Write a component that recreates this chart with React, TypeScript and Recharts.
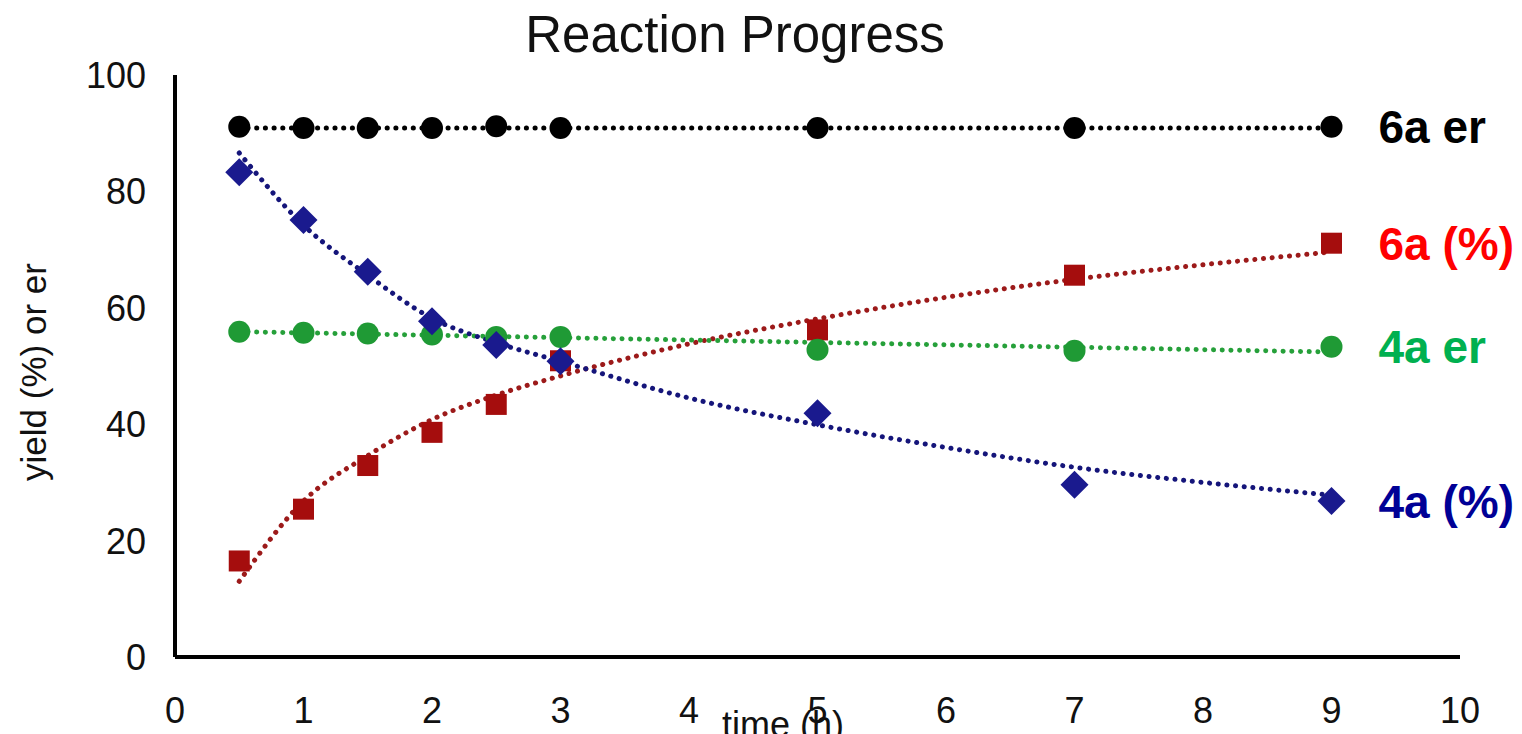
import React from 'react'
import { ComposedChart, Line, Scatter, XAxis, YAxis } from 'recharts'

// time points (h)
const times = [0.5, 1, 1.5, 2, 2.5, 3, 5, 7, 9]

// measured values
const er6a = [91.1, 90.9, 90.9, 90.9, 91.2, 90.9, 90.9, 90.9, 91.1]
const yield6a = [16.5, 25.4, 32.9, 38.6, 43.4, 50.9, 56.2, 65.6, 71.1]
const er4a = [55.9, 55.7, 55.6, 55.4, 55.0, 55.0, 52.8, 52.6, 53.3]
const yield4a = [83.3, 75.1, 66.2, 57.7, 53.6, 50.8, 41.9, 29.6, 26.8]

// trend lines
const trendTimes = [0.5, 1, 1.5, 2, 2.5, 3, 4, 5, 6, 7, 8, 9]
const trend6a = [13.0, 26.8, 34.6, 40.8, 45.0, 48.3, 53.8, 58.1, 61.8, 64.9, 67.4, 69.6]
const trend4a = [86.6, 74.2, 65.6, 58.2, 54.0, 50.8, 44.5, 39.9, 36.0, 32.6, 30.0, 27.8]
const trendEr6aTimes = [0.5, 9]
const trendEr6a = [90.9, 90.9]
const trendEr4aTimes = [0.5, 9]
const trendEr4a = [55.9, 52.4]

const xTicks = [0, 1, 2, 3, 4, 5, 6, 7, 8, 9, 10]
const yTicks = [0, 20, 40, 60, 80, 100]

const FONT = '"Liberation Sans", Arial, sans-serif'

const toPoints = (xs: number[], ys: number[]) => xs.map((x, i) => ({ x, y: ys[i] }))

const lastTime = times[times.length - 1]

type Kind = 'circle' | 'square' | 'diamond'

const makeShape = (kind: Kind, color: string, label: string, labelColor: string) =>
  (props: any) => {
    const { cx, cy, payload } = props
    let marker
    if (kind === 'circle') {
      marker = <circle cx={cx} cy={cy} r={11} fill={color} />
    } else if (kind === 'square') {
      marker = <rect x={cx - 10.5} y={cy - 10.5} width={21} height={21} fill={color} />
    } else {
      marker = (
        <polygon
          points={`${cx},${cy - 14} ${cx + 14},${cy} ${cx},${cy + 14} ${cx - 14},${cy}`}
          fill={color}
        />
      )
    }
    return (
      <g>
        {marker}
        {payload && payload.x === lastTime && (
          <text
            x={cx + 47}
            y={cy}
            dy="0.36em"
            fill={labelColor}
            fontFamily={FONT}
            fontSize={46}
            fontWeight="bold"
          >
            {label}
          </text>
        )}
      </g>
    )
  }

const XTick = (props: any) => {
  const { x, payload } = props
  return (
    <text x={x} y={723} textAnchor="middle" fontFamily={FONT} fontSize={36} fill="#111">
      {payload.value}
    </text>
  )
}

const YTick = (props: any) => {
  const { y, payload } = props
  return (
    <text x={146} y={y} dy="0.36em" textAnchor="end" fontFamily={FONT} fontSize={36} fill="#111">
      {payload.value}
    </text>
  )
}

const dotted = {
  strokeWidth: 5,
  strokeDasharray: '0.1 8.6',
  strokeLinecap: 'round' as const,
  dot: false,
  activeDot: false,
  isAnimationActive: false,
}

export default function App() {
  return (
    <div style={{ position: 'absolute', left: 0, top: 0, width: 1522, height: 734, background: '#fff' }}>
      <div
        style={{
          position: 'absolute',
          left: 0,
          width: 1470,
          top: 6,
          textAlign: 'center',
          fontFamily: FONT,
          fontSize: 51,
          color: '#111',
          lineHeight: '58px',
        }}
      >
        Reaction Progress
      </div>
      <ComposedChart
        width={1522}
        height={734}
        margin={{ top: 75, right: 62, left: 0, bottom: 0 }}
      >
        <XAxis
          type="number"
          dataKey="x"
          domain={[0, 10]}
          ticks={xTicks}
          tick={<XTick />}
          tickLine={false}
          axisLine={{ stroke: '#000', strokeWidth: 4 }}
          height={77}
          label={{
            content: () => (
              <text x={783} y={737} textAnchor="middle" fontFamily={FONT} fontSize={36} fill="#111">
                time (h)
              </text>
            ),
          }}
        />
        <YAxis
          type="number"
          domain={[0, 100]}
          ticks={yTicks}
          tick={<YTick />}
          tickLine={false}
          axisLine={{ stroke: '#000', strokeWidth: 4 }}
          width={175}
          label={{
            content: () => (
              <text
                x={46}
                y={372}
                transform="rotate(-90 46 372)"
                textAnchor="middle"
                fontFamily={FONT}
                fontSize={35}
                fill="#111"
              >
                yield (%) or er
              </text>
            ),
          }}
        />

        <Scatter
          data={toPoints(times, er6a)}
          dataKey="y"
          shape={makeShape('circle', '#000000', '6a er', '#000000')}
          isAnimationActive={false}
        />
        <Scatter
          data={toPoints(times, yield6a)}
          dataKey="y"
          shape={makeShape('square', '#a50d0d', '6a (%)', '#ff0000')}
          isAnimationActive={false}
        />
        <Scatter
          data={toPoints(times, er4a)}
          dataKey="y"
          shape={makeShape('circle', '#1f9a35', '4a er', '#00b050')}
          isAnimationActive={false}
        />
        <Scatter
          data={toPoints(times, yield4a)}
          dataKey="y"
          shape={makeShape('diamond', '#1a1a8e', '4a (%)', '#000096')}
          isAnimationActive={false}
        />

        <Line data={toPoints(trendEr6aTimes, trendEr6a)} dataKey="y" type="linear" stroke="#000000" {...dotted} />
        <Line data={toPoints(trendTimes, trend6a)} dataKey="y" type="monotone" stroke="#9c1a1a" {...dotted} />
        <Line data={toPoints(trendEr4aTimes, trendEr4a)} dataKey="y" type="linear" stroke="#26a03a" {...dotted} />
        <Line data={toPoints(trendTimes, trend4a)} dataKey="y" type="monotone" stroke="#15157a" {...dotted} />
      </ComposedChart>
    </div>
  )
}
